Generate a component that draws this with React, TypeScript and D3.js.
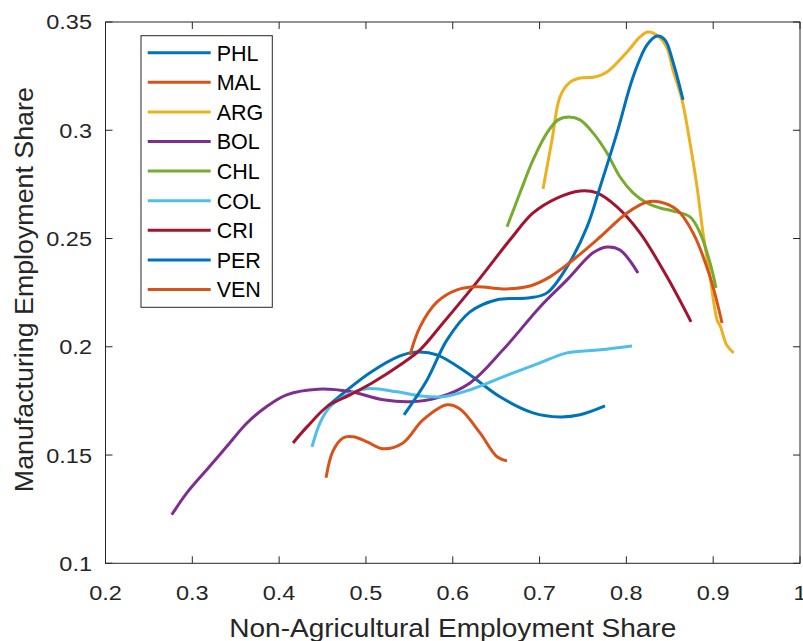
import React from "react";
import * as d3 from "d3";

// ---- Data ----
const phlX = [0.4563, 0.5047, 0.5393, 0.5588, 0.5819, 0.6164, 0.6544, 0.6924, 0.7235, 0.7466, 0.7754];
const phlY = [0.1727, 0.1880, 0.1958, 0.1976, 0.1963, 0.1880, 0.1769, 0.1695, 0.1676, 0.1686, 0.1727];

const malX = [0.4540, 0.4621, 0.4736, 0.4851, 0.5012, 0.5197, 0.5427, 0.5657, 0.5934, 0.6083, 0.6314, 0.6510, 0.6625];
const malY = [0.1395, 0.1519, 0.1579, 0.1584, 0.1561, 0.1529, 0.1556, 0.1662, 0.1732, 0.1713, 0.1602, 0.1492, 0.1473];

const argX = [0.7040, 0.7143, 0.7235, 0.7339, 0.7466, 0.7639, 0.7777, 0.8007, 0.8157, 0.8249, 0.8365, 0.8468, 0.8537, 0.8641, 0.8733, 0.8814, 0.8883, 0.8964, 0.9045, 0.9085, 0.9154, 0.9235];
const argY = [0.2729, 0.2955, 0.3154, 0.3218, 0.3241, 0.3246, 0.3269, 0.3361, 0.3431, 0.3454, 0.3435, 0.3380, 0.3278, 0.3140, 0.2941, 0.2738, 0.2526, 0.2323, 0.2124, 0.2092, 0.2009, 0.1972];

const bolX = [0.2763, 0.2935, 0.3166, 0.3396, 0.3627, 0.3857, 0.4087, 0.4451, 0.4816, 0.5200, 0.5508, 0.5819, 0.6199, 0.6579, 0.7005, 0.7316, 0.7616, 0.7777, 0.7927, 0.8134];
const bolY = [0.1224, 0.1324, 0.1432, 0.1539, 0.1647, 0.1724, 0.1778, 0.1804, 0.1793, 0.1755, 0.1746, 0.1764, 0.1833, 0.1986, 0.2184, 0.2309, 0.2434, 0.2461, 0.2447, 0.2341];

const chlX = [0.6625, 0.6775, 0.6925, 0.7086, 0.7213, 0.7339, 0.7466, 0.7616, 0.7777, 0.7927, 0.8077, 0.8238, 0.8388, 0.8537, 0.8733, 0.8849, 0.8964, 0.9033];
const chlY = [0.2554, 0.2711, 0.2863, 0.2988, 0.3048, 0.3061, 0.3048, 0.2988, 0.2895, 0.2784, 0.2711, 0.2664, 0.2641, 0.2627, 0.2600, 0.2526, 0.2387, 0.2272];

const colX = [0.4379, 0.4471, 0.4586, 0.4759, 0.5012, 0.5358, 0.5623, 0.5888, 0.6199, 0.6579, 0.7005, 0.7316, 0.7697, 0.8065];
const colY = [0.1538, 0.1649, 0.1723, 0.1773, 0.1806, 0.1792, 0.1773, 0.1769, 0.1801, 0.1861, 0.1926, 0.1972, 0.1986, 0.2004];

const criX = [0.4160, 0.4321, 0.4563, 0.4816, 0.5070, 0.5393, 0.5623, 0.5888, 0.6280, 0.6660, 0.6925, 0.7201, 0.7466, 0.7662, 0.7892, 0.8157, 0.8468, 0.8745];
const criY = [0.1556, 0.1630, 0.1727, 0.1778, 0.1833, 0.1916, 0.1986, 0.2110, 0.2300, 0.2494, 0.2618, 0.2687, 0.2720, 0.2711, 0.2646, 0.2526, 0.2323, 0.2115];

const perX = [0.5439, 0.5704, 0.5934, 0.6199, 0.6510, 0.6890, 0.7086, 0.7316, 0.7547, 0.7697, 0.7892, 0.8077, 0.8238, 0.8353, 0.8445, 0.8537, 0.8653];
const perY = [0.1686, 0.1847, 0.2032, 0.2161, 0.2217, 0.2226, 0.2249, 0.2369, 0.2554, 0.2738, 0.2988, 0.3246, 0.3394, 0.3435, 0.3417, 0.3315, 0.3140];

const venX = [0.5508, 0.5623, 0.5819, 0.6049, 0.6280, 0.6579, 0.6890, 0.7120, 0.7385, 0.7697, 0.8007, 0.8238, 0.8388, 0.8584, 0.8768, 0.8964, 0.9102];
const venY = [0.1963, 0.2092, 0.2207, 0.2263, 0.2277, 0.2267, 0.2281, 0.2323, 0.2401, 0.2507, 0.2618, 0.2669, 0.2669, 0.2632, 0.2526, 0.2323, 0.2110];

const countries = ["PHL", "MAL", "ARG", "BOL", "CHL", "COL", "CRI", "PER", "VEN"];
const seriesX = [phlX, malX, argX, bolX, chlX, colX, criX, perX, venX];
const seriesY = [phlY, malY, argY, bolY, chlY, colY, criY, perY, venY];
const colors = ["#0072BD", "#D95319", "#EDB120", "#7E2F8E", "#77AC30", "#4DBEEE", "#A2142F", "#0072BD", "#D95319"];

const xTicks = [0.2, 0.3, 0.4, 0.5, 0.6, 0.7, 0.8, 0.9, 1];
const yTicks = [0.1, 0.15, 0.2, 0.25, 0.3, 0.35];
const xLabel = "Non-Agricultural Employment Share";
const yLabel = "Manufacturing Employment Share";

export default function App() {
  const W = 803, H = 641;
  const left = 105.5, right = 800, top = 22, bottom = 563.3;
  const x = d3.scaleLinear().domain([0.2, 1]).range([left, right]);
  const y = d3.scaleLinear().domain([0.1, 0.35]).range([bottom, top]);
  const line = d3.line<[number, number]>()
    .x((d) => x(d[0]))
    .y((d) => y(d[1]))
    .curve(d3.curveCatmullRom.alpha(0.5));

  const axisColor = "#262626";
  const font = "'Liberation Sans', Arial, Helvetica, sans-serif";
  const tickLen = 7;

  const legX = 141, legY = 35.7, legW = 131.3, legH = 271.6;
  const rowY0 = 52.7, rowStep = 29.6;

  return (
    <svg width={W} height={H} style={{ position: "absolute", left: 0, top: 0, background: "#fff" }}
      fontFamily={font}>
      <rect x={0} y={0} width={W} height={H} fill="#fff" />
      {/* ticks */}
      {xTicks.map((t) => (
        <g key={"xt" + t}>
          <line x1={x(t)} x2={x(t)} y1={bottom} y2={bottom - tickLen} stroke={axisColor} strokeWidth={1} />
          <line x1={x(t)} x2={x(t)} y1={top} y2={top + tickLen} stroke={axisColor} strokeWidth={1} />
          <text x={x(t)} y={600} textAnchor="middle" fontSize={21} fill={axisColor}
            transform={`translate(${x(t)},0) scale(1.12,1) translate(${-x(t)},0)`}>
            {String(t)}
          </text>
        </g>
      ))}
      {yTicks.map((t) => (
        <g key={"yt" + t}>
          <line x1={left} x2={left + tickLen} y1={y(t)} y2={y(t)} stroke={axisColor} strokeWidth={1} />
          <line x1={right} x2={right - tickLen} y1={y(t)} y2={y(t)} stroke={axisColor} strokeWidth={1} />
          <text x={92} y={y(t) + 7.5} textAnchor="end" fontSize={21} fill={axisColor}
            transform={`translate(92,0) scale(1.12,1) translate(-92,0)`}>
            {String(t)}
          </text>
        </g>
      ))}
      {/* box */}
      <rect x={left} y={top} width={right - left} height={bottom - top} fill="none" stroke={axisColor} strokeWidth={1} />

      {/* series */}
      {countries.map((c, i) => {
        const pts: [number, number][] = seriesX[i].map((v, j) => [v, seriesY[i][j]]);
        return (
          <path key={c} d={line(pts) || ""} fill="none" stroke={colors[i]} strokeWidth={3}
            strokeLinejoin="round" strokeLinecap="butt" />
        );
      })}

      {/* axis labels */}
      <text x={(left + right) / 2} y={637} textAnchor="middle" fontSize={26} fill={axisColor}
        textLength={447} lengthAdjust="spacingAndGlyphs">{xLabel}</text>
      <text transform={`translate(33,${(top + bottom) / 2 - 3}) rotate(-90)`} textAnchor="middle" fontSize={26}
        fill={axisColor} textLength={405} lengthAdjust="spacingAndGlyphs">{yLabel}</text>

      {/* legend */}
      <rect x={legX} y={legY} width={legW} height={legH} fill="#fff" stroke={axisColor} strokeWidth={1} />
      {countries.map((c, i) => {
        const ry = rowY0 + i * rowStep;
        return (
          <g key={"leg" + c}>
            <line x1={147.7} x2={210.7} y1={ry} y2={ry} stroke={colors[i]} strokeWidth={3} />
            <text x={216.7} y={ry + 7.8} fontSize={21.5} fill="#000">{c}</text>
          </g>
        );
      })}
    </svg>
  );
}
